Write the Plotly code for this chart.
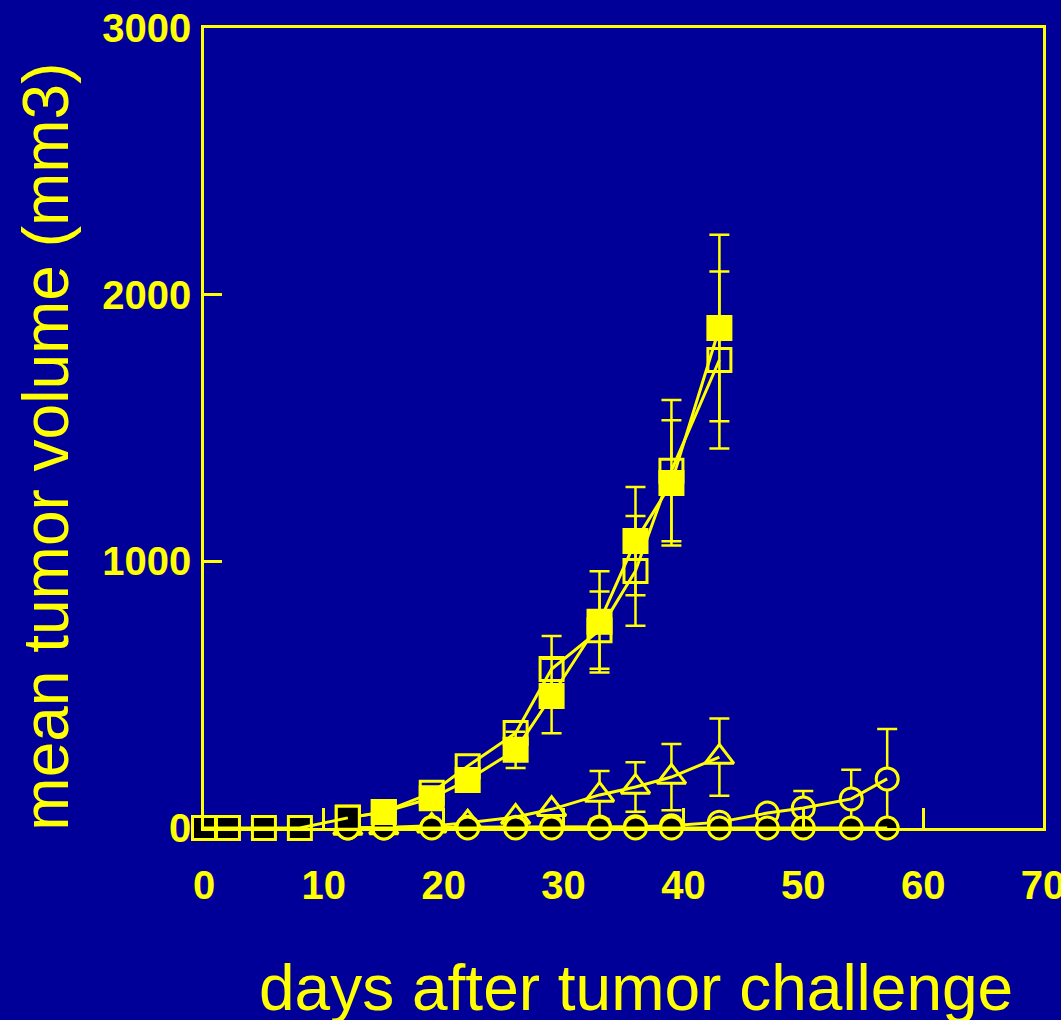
import plotly.graph_objects as go

BG = "#000099"
YEL = "#FFFF00"

# ---- data ----
days_sq = [12, 15, 19, 22, 26, 29, 33, 36, 39, 43]
filled_sq = [38, 60, 112, 180, 293, 495, 773, 1076, 1294, 1875]
filled_sq_err = [0, 5, 10, 15, 68, 140, 190, 203, 235, 350]
open_sq = [38, 60, 132, 232, 356, 596, 742, 964, 1340, 1755]
open_sq_err = [0, 5, 10, 20, 40, 124, 145, 206, 265, 332]

days_tri = [12, 15, 19, 22, 26, 29, 33, 36, 39, 43]
open_tri = [0, 2, 8, 20, 41, 70, 124, 154, 191, 266]
open_tri_err = [0, 0, 0, 0, 0, 0, 90, 93, 124, 145]

days_circ = [12, 15, 19, 22, 26, 29, 33, 36, 39, 43, 47, 50, 54, 57]
open_circ = [0, 0, 2, 3, 3, 4, 4, 5, 8, 22, 56, 75, 109, 184]
open_circ_err = [0, 0, 0, 0, 0, 0, 0, 0, 0, 0, 0, 64, 109, 187]
filled_circ = [0, 0, 0, 0, 0, 0, 0, 0, 0, 0, 0, 0, 0, 0]

days_early = [0, 2, 5, 8, 12]
black_sq = [0, 0, 0, 0, 38]

x_ticks = [0, 10, 20, 30, 40, 50, 60, 70]
y_ticks = [0, 1000, 2000, 3000]

fig = go.Figure()


def add_series(x, y, err, symbol, fill, size):
    # markers (with error bars beneath)
    fig.add_trace(go.Scatter(
        x=x, y=y, mode="markers", cliponaxis=False, showlegend=False,
        marker=dict(symbol=symbol, size=size, color=fill,
                    line=dict(color=YEL, width=3)),
        error_y=dict(type="data", array=err if err is not None else [],
                     visible=err is not None,
                     color=YEL, thickness=2.5, width=10),
    ))
    # connecting line drawn on top
    fig.add_trace(go.Scatter(
        x=x, y=y, mode="lines", cliponaxis=False, showlegend=False,
        line=dict(color=YEL, width=3),
    ))


add_series(days_tri, open_tri, open_tri_err, "triangle-up", BG, 25)
add_series(days_circ, open_circ, open_circ_err, "circle", BG, 22)
add_series(days_circ, filled_circ, None, "circle", "#000000", 22)
add_series(days_sq, open_sq, open_sq_err, "square", BG, 23)
add_series(days_sq, filled_sq, filled_sq_err, "square", YEL, 23)
add_series(days_early, black_sq, None, "square", "#000000", 23)

FONT = "Liberation Sans, Arial, sans-serif"
tickfont = dict(family=FONT, size=40, color=YEL, weight="bold")

fig.update_layout(
    width=1061, height=1020,
    paper_bgcolor=BG, plot_bgcolor=BG,
    margin=dict(l=204, r=18, t=28, b=192, autoexpand=False),
    xaxis=dict(range=[0, 70], tickvals=x_ticks, ticks="inside", ticklen=20,
               tickwidth=2.5, tickcolor=YEL, showline=True, linecolor=YEL,
               linewidth=2.5, mirror=True, showgrid=False, zeroline=False,
               tickfont=tickfont, ticklabelstandoff=20,
               ticklabeloverflow="allow", automargin=False),
    yaxis=dict(range=[0, 3000], tickvals=y_ticks, ticks="inside", ticklen=18,
               tickwidth=2.5, tickcolor=YEL, showline=True, linecolor=YEL,
               linewidth=2.5, mirror=True, showgrid=False, zeroline=False,
               tickfont=tickfont, ticklabelstandoff=2,
               ticklabeloverflow="allow", automargin=False),
    annotations=[
        dict(text="mean tumor volume (mm3)", xref="paper", yref="paper",
             x=-0.188, y=0.477, xanchor="center", yanchor="middle",
             textangle=-90, showarrow=False,
             font=dict(family=FONT, size=64, color=YEL)),
        dict(text="days after tumor challenge", xref="paper", yref="paper",
             x=0.515, y=-0.2, xanchor="center", yanchor="middle",
             showarrow=False,
             font=dict(family=FONT, size=64, color=YEL)),
    ],
)

fig.write_html("out.html", config={"displayModeBar": False},
               post_script="document.body.style.margin='0';"
                           "document.body.style.background='" + BG + "';")
